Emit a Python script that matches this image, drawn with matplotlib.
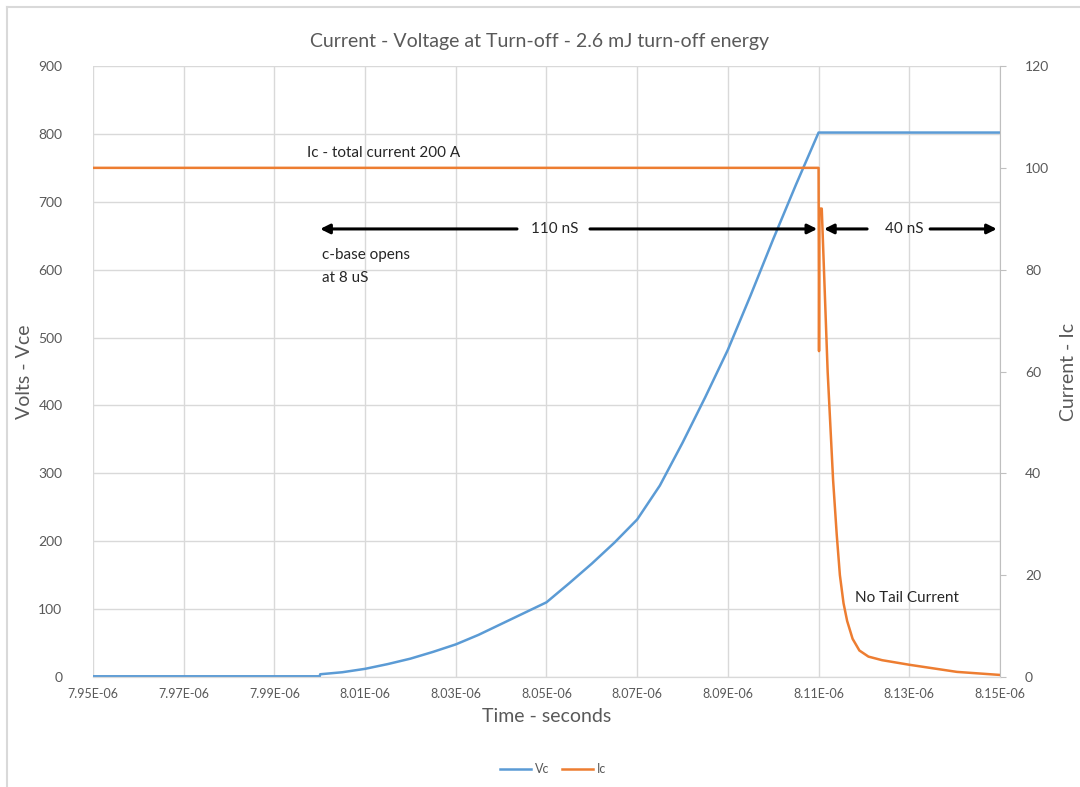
import matplotlib
matplotlib.use("Agg")
import matplotlib.pyplot as plt
from matplotlib.lines import Line2D
from matplotlib.ticker import FuncFormatter, MultipleLocator
import numpy as np

plt.rcParams["font.family"] = ["Lato", "DejaVu Sans"]

# =============================
# Data (time in microseconds)
# =============================
vc_time_us = [7.95, 8.00, 8.0001, 8.005, 8.01, 8.015, 8.02, 8.025, 8.03, 8.035,
              8.04, 8.045, 8.05, 8.055, 8.06, 8.065, 8.07, 8.075, 8.08, 8.085,
              8.09, 8.095, 8.10, 8.105, 8.11, 8.12, 8.13, 8.14, 8.15]
vc_volts = [1, 1, 4, 7, 12, 19, 27, 37, 48, 62,
            78, 94, 110, 138, 167, 198, 232, 282, 345, 412,
            482, 562, 645, 725, 802, 802, 802, 802, 802]

ic_time_us = [7.95, 8.00, 8.05, 8.1100, 8.1101, 8.1102, 8.1107, 8.1120, 8.1132,
              8.1140, 8.1147, 8.1155, 8.1163, 8.1175, 8.1190, 8.1210, 8.1240,
              8.1300, 8.1405, 8.15]
ic_amps = [100, 100, 100, 100, 64, 92, 92, 60, 38.7,
           28, 20, 14.5, 11, 7.5, 5.2, 4.0, 3.3,
           2.4, 1.0, 0.4]

x_ticks_us = [7.95, 7.97, 7.99, 8.01, 8.03, 8.05, 8.07, 8.09, 8.11, 8.13, 8.15]

BLUE = "#5B9BD5"
ORANGE = "#ED7D31"
GRID = "#D9D9D9"
TXT = "#595959"

fig = plt.figure(figsize=(10.8, 7.87), dpi=100)
ax = fig.add_axes([0.0861, 0.1398, 0.8398, 0.7763])
ax2 = ax.twinx()

t_vc = np.array(vc_time_us) * 1e-6
t_ic = np.array(ic_time_us) * 1e-6

l1, = ax.plot(t_vc, vc_volts, color=BLUE, lw=1.8, label="Vc")
l2, = ax2.plot(t_ic, ic_amps, color=ORANGE, lw=1.8, label="Ic")

ax.set_xlim(7.95e-6, 8.15e-6)
ax.set_ylim(0, 900)
ax2.set_ylim(0, 120)
ax.set_xticks(np.array(x_ticks_us) * 1e-6)
ax.xaxis.set_major_formatter(FuncFormatter(lambda v, p: "{:.2E}".format(v)))
ax.yaxis.set_major_locator(MultipleLocator(100))
ax2.yaxis.set_major_locator(MultipleLocator(20))

ax.grid(True, color=GRID, lw=1)
ax.set_axisbelow(True)
for a in (ax, ax2):
    a.spines["top"].set_visible(False)
    a.spines["left"].set_visible(False)
    a.spines["right"].set_visible(False)
    a.spines["bottom"].set_color(GRID)
ax2.spines["right"].set_visible(True)
ax2.spines["right"].set_color("#BFBFBF")

ax.tick_params(axis="x", length=0, colors=TXT, labelsize=9, pad=8)
ax.tick_params(axis="y", length=0, colors=TXT, labelsize=10, pad=22)
ax2.tick_params(axis="y", length=4, color="#BFBFBF", labelcolor=TXT, labelsize=10, pad=14)

ax.set_xlabel("Time - seconds", color=TXT, fontsize=14, labelpad=6)
ax.set_ylabel("Volts - Vce", color=TXT, fontsize=14, labelpad=4)
ax2.set_ylabel("Current - Ic", color=TXT, fontsize=14, labelpad=8)

fig.suptitle("Current - Voltage at Turn-off - 2.6 mJ turn-off energy",
             color=TXT, fontsize=14, y=0.958)

# annotations (left axis coordinates)
ax.text(7.9972e-6, 772, "Ic - total current 200 A", fontsize=11, va="center", color="#262626")
ax.text(8.0519e-6, 660, "110 nS", fontsize=11, va="center", ha="center", color="#262626")
ax.text(8.129e-6, 660, "40 nS", fontsize=11, va="center", ha="center", color="#262626")
ax.text(8.0005e-6, 621, "c-base opens", fontsize=11, va="center", color="#262626")
ax.text(8.0005e-6, 588, "at 8 uS", fontsize=11, va="center", color="#262626")
ax.text(8.118e-6, 116, "No Tail Current", fontsize=11, va="center", color="#262626")

arrow_kw = dict(arrowstyle="-|>", color="black", lw=2.2, mutation_scale=14,
                shrinkA=0, shrinkB=0)
for x0, x1 in [(8.0435e-6, 8.0001e-6), (8.0596e-6, 8.1097e-6),
               (8.1207e-6, 8.1112e-6), (8.1346e-6, 8.1493e-6)]:
    ax.annotate("", xy=(x1, 660), xytext=(x0, 660), arrowprops=arrow_kw)

fig.legend(handles=[l1, l2], loc="center", bbox_to_anchor=(0.512, 0.023), ncol=2,
           frameon=False, fontsize=9, labelcolor=TXT, handlelength=2.5,
           columnspacing=1.0, handletextpad=0.3)

# outer chart frame (left and top visible)
fig.add_artist(Line2D([0.0065, 0.0065], [0, 0.991], color=GRID, lw=1.5,
                      transform=fig.transFigure))
fig.add_artist(Line2D([0.0065, 1], [0.991, 0.991], color=GRID, lw=1.5,
                      transform=fig.transFigure))

fig.savefig("out.png", dpi=100)
